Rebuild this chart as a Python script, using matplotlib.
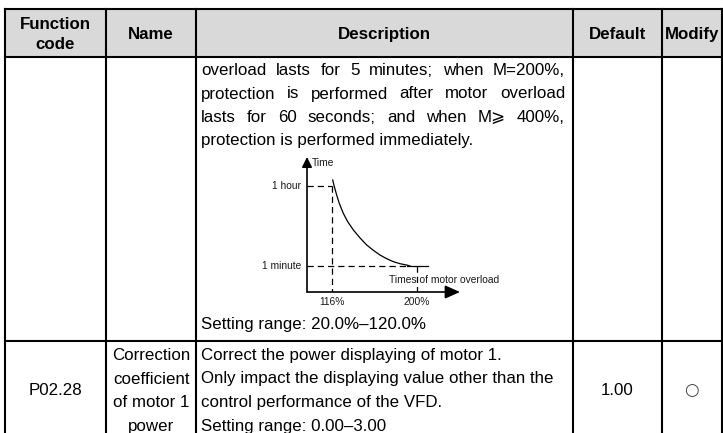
import matplotlib
matplotlib.use('Agg')
import matplotlib.pyplot as plt

W, H = 723, 433

# ---- table text ----
header_cols = [['Function', 'code'], ['Name'], ['Description'], ['Default'], ['Modify']]

desc_justified = [
    'overload lasts for 5 minutes; when M=200%,',
    'protection is performed after motor overload',
    'lasts for 60 seconds; and when M\u2a7e 400%,',
]
desc_last = 'protection is performed immediately.'
desc_range = 'Setting range: 20.0%\u2013120.0%'

p_code = 'P02.28'
p_name = ['Correction', 'coefficient', 'of motor 1', 'power']
p_desc = ['Correct the power displaying of motor 1.',
          'Only impact the displaying value other than the',
          'control performance of the VFD.',
          'Setting range: 0.00\u20133.00']
p_default = '1.00'
p_modify = '\u25cb'

# ---- overload curve: load (%) vs protection time (minutes) ----
curve_load = [116.7, 118.3, 120.6, 123.2, 127.2, 131.5, 137.1, 143.7, 150.3,
              156.8, 163.4, 170.0, 176.6, 183.2, 189.8, 193.1]
curve_time = [64.4, 59.5, 53.4, 47.2, 39.8, 33.7, 27.6, 21.7, 16.5,
              12.6, 9.1, 6.4, 4.2, 2.7, 1.7, 1.0]
tail_load = [190, 211]
load_ticks = [116, 200]
load_labels = ['116%', '200%']
time_ticks = [60, 1]
time_labels = ['1 hour', '1 minute']

# layout (pixels)
col_x = [5, 106, 196, 573, 662, 721.5]
top_y, head_y, sep_y = 9, 57, 341
line_h = 23.5

plt.rcParams['font.family'] = ['Liberation Sans', 'DejaVu Sans']
FS = 12.2

fig = plt.figure(figsize=(W / 100, H / 100), dpi=100)
ax = fig.add_axes([0, 0, 1, 1])
ax.set_xlim(0, W)
ax.set_ylim(H, 0)
ax.axis('off')

# header background and grid
ax.fill_between([col_x[0], col_x[-1]], top_y, head_y, color='#d9d9d9', lw=0)
lw = 1.5
for yy in [top_y, head_y, sep_y]:
    ax.plot([col_x[0], col_x[-1]], [yy, yy], color='black', lw=lw, solid_capstyle='projecting')
for xx in col_x:
    ax.plot([xx, xx], [top_y, H + 2], color='black', lw=lw, solid_capstyle='projecting')

centers = [(a + b) / 2 for a, b in zip(col_x[:-1], col_x[1:])]
for cx, lines in zip(centers, header_cols):
    n = len(lines)
    for i, t in enumerate(lines):
        yy = (top_y + head_y) / 2 + (i - (n - 1) / 2) * 19.5
        ax.text(cx, yy + 6, t, ha='center', va='baseline', fontsize=FS, fontweight='bold')

renderer = fig.canvas.get_renderer()
x0, x1 = 201, 565


def justify(text, y):
    words = text.split(' ')
    objs = [ax.text(x0, y, w, ha='left', va='baseline', fontsize=FS) for w in words]
    widths = [o.get_window_extent(renderer).width for o in objs]
    gap = (x1 - x0 - sum(widths)) / (len(words) - 1)
    x = x0
    for o, w in zip(objs, widths):
        o.set_x(x)
        x += w + gap


base = 75
for i, t in enumerate(desc_justified):
    justify(t, base + i * line_h)
ax.text(x0, base + 3 * line_h, desc_last, ha='left', va='baseline', fontsize=FS)
ax.text(x0, 329, desc_range, ha='left', va='baseline', fontsize=FS)

# second row
r2 = 360
for i, t in enumerate(p_name):
    ax.text(centers[1], r2 + i * line_h, t, ha='center', va='baseline', fontsize=FS)
for i, t in enumerate(p_desc):
    ax.text(x0, r2 + i * line_h, t, ha='left', va='baseline', fontsize=FS)
mid = r2 + 1.5 * line_h
ax.text(centers[0], mid, p_code, ha='center', va='baseline', fontsize=FS)
ax.text(centers[3], mid, p_default, ha='center', va='baseline', fontsize=FS)
ax.text(centers[4], mid, p_modify, ha='center', va='baseline', fontsize=FS,
        family=['DejaVu Sans'], color='#444444')

# ---- inset chart ----
ax_left, ax_right, ax_bot, ax_top = 307, 460, 292, 157
cax = fig.add_axes([ax_left / W, 1 - ax_bot / H, (ax_right - ax_left) / W, (ax_bot - ax_top) / H])
px_x = (417 - 332) / (load_ticks[1] - load_ticks[0])
px_y = (266 - 186) / (time_ticks[0] - time_ticks[1])
xmin = load_ticks[0] - (332 - ax_left) / px_x
xmax = load_ticks[0] + (ax_right - 332) / px_x
ymin = time_ticks[1] - (ax_bot - 266) / px_y
ymax = time_ticks[0] + (186 - ax_top) / px_y
cax.set_xlim(xmin, xmax)
cax.set_ylim(ymin, ymax)
cax.axis('off')
cax.patch.set_alpha(0)

dash = dict(color='black', lw=0.9, dashes=(5, 3.2))
cax.plot([xmin, load_ticks[0]], [time_ticks[0]] * 2, **dash)
cax.plot([load_ticks[0]] * 2, [time_ticks[0], ymin], **dash)
cax.plot([xmin, tail_load[0]], [time_ticks[1]] * 2, **dash)
cax.plot([load_ticks[1]] * 2, [time_ticks[1], ymin], **dash)
cax.plot(curve_load, curve_time, color='black', lw=0.9)
cax.plot(tail_load, [time_ticks[1]] * 2, color='black', lw=0.9)

# axes with arrows
cax.annotate('', xy=(xmax, ymin), xytext=(xmin, ymin),
             arrowprops=dict(arrowstyle='-|>,head_length=0.9,head_width=0.4', color='black',
                             lw=1.2, shrinkA=0, shrinkB=0), annotation_clip=False)
cax.annotate('', xy=(xmin, ymax), xytext=(xmin, ymin),
             arrowprops=dict(arrowstyle='-|>,head_length=0.6,head_width=0.3', color='black',
                             lw=1.2, shrinkA=0, shrinkB=0), annotation_clip=False)

tfs = 7.4
tc = '#1a1a1a'
for v, lab in zip(load_ticks, load_labels):
    cax.text(v, ymin - 10 / px_y, lab, ha='center', va='center', fontsize=tfs, color=tc, clip_on=False)
for v, lab in zip(time_ticks, time_labels):
    cax.text(xmin - 6 / px_x, v, lab, ha='right', va='center', fontsize=tfs, color=tc, clip_on=False)
cax.text(xmin + 5 / px_x, ymax - 6 / px_y, 'Time', ha='left', va='center', fontsize=tfs, color=tc,
         clip_on=False)
cax.text(load_ticks[0] + 57 / px_x, time_ticks[1] - 14 / px_y, 'Times of motor overload',
         ha='left', va='center', fontsize=tfs, color=tc, clip_on=False, zorder=0)

fig.savefig('out.png', dpi=100)
